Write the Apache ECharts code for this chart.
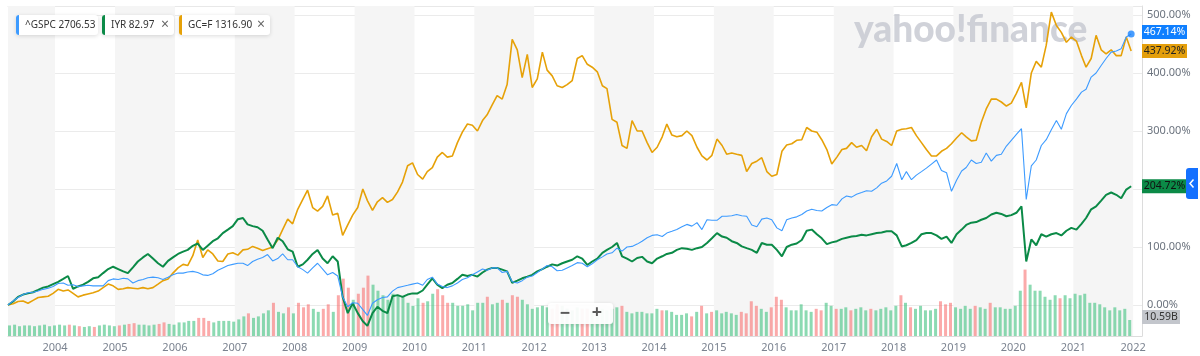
<!DOCTYPE html>
<html><head><meta charset="utf-8">
<script src="https://cdn.jsdelivr.net/npm/echarts@6/dist/echarts.min.js"></script>
<style>html,body{margin:0;padding:0;background:#fff;}#c{width:1200px;height:356px;}</style>
</head><body><div id="c"></div>
<script>
// ---- data: monthly readings (% change since start), Mar 2003 .. Dec 2021 ----
const startYear = 2003, startMonth = 3;
const spx = [
  0, 7, 13, 18, 21, 22, 24, 27, 29, 32,
  37, 38, 34, 35, 32, 33, 34, 33, 33, 33, 42, 45,
  44, 46, 45, 38, 42, 44, 47, 48, 47, 44, 48, 52,
  55, 55, 57, 58, 56, 52, 51, 54, 60, 64, 68, 70,
  72, 72, 68, 75, 79, 82, 87, 76, 80, 88, 78, 78,
  66, 61, 55, 64, 72, 62, 52, 56, 50, 14, -3, 4,
  3, -8, -18, 3, 9, 13, 14, 24, 30, 32, 34, 36,
  38, 34, 44, 48, 36, 32, 30, 33, 38, 44, 47, 52,
  57, 62, 60, 64, 64, 56, 58, 40, 38, 42, 48, 50,
  56, 62, 68, 66, 59, 60, 64, 68, 73, 72, 66, 71,
  78, 83, 88, 90, 98, 93, 100, 101, 105, 110, 116, 120,
  121, 118, 124, 127, 130, 135, 139, 136, 142, 130, 147, 146,
  146, 153, 153, 154, 156, 154, 153, 138, 135, 148, 150, 147,
  133, 128, 147, 150, 152, 156, 162, 165, 163, 162, 168, 173,
  172, 183, 188, 186, 191, 194, 197, 196, 202, 210, 214, 222,
  244, 216, 230, 216, 224, 230, 236, 243, 250, 232, 228, 196,
  215, 231, 237, 250, 244, 246, 262, 248, 258, 260, 274, 284,
  294, 304, 182, 240, 250, 275, 285, 302, 318, 303, 330, 344,
  355, 367, 372, 393, 400, 413, 425, 436, 438, 442, 462, 467.14
];
const iyr = [
  0, 6, 14, 18, 20, 22, 26, 30, 32, 36,
  40, 45, 50, 28, 32, 35, 40, 46, 48, 55, 62, 66,
  62, 58, 55, 65, 75, 82, 88, 80, 72, 66, 76, 82,
  88, 92, 95, 102, 106, 95, 102, 110, 115, 124, 130, 136,
  148, 150, 139, 136, 134, 128, 113, 98, 116, 110, 96, 92,
  66, 70, 78, 88, 95, 80, 72, 84, 75, 14, -14, 3,
  -14, -28, -36, -14, -3, -10, -14, 15, 17, 14, 18, 20,
  20, 25, 35, 46, 35, 29, 35, 38, 45, 52, 50, 52,
  49, 56, 61, 64, 64, 61, 58, 38, 42, 46, 49, 52,
  58, 62, 66, 70, 68, 72, 75, 78, 84, 80, 69, 75,
  80, 90, 95, 100, 107, 84, 80, 75, 81, 83, 75, 72,
  80, 84, 88, 90, 95, 98, 97, 95, 98, 100, 107, 115,
  124, 118, 116, 110, 107, 101, 98, 95, 90, 107, 104, 104,
  95, 84, 100, 104, 106, 112, 128, 130, 122, 115, 105, 108,
  110, 114, 116, 118, 119, 121, 120, 122, 124, 125, 127, 127,
  120, 101, 103, 107, 112, 122, 124, 124, 120, 114, 118, 107,
  122, 130, 138, 142, 143, 147, 150, 156, 159, 157, 153, 155,
  159, 170, 75, 113, 103, 122, 118, 122, 124, 120, 128, 133,
  130, 140, 150, 165, 170, 180, 190, 194, 190, 184, 199, 204.72
];
const gold = [
  0, 2, 6, 7, 3, 8, 13, 14, 15, 20,
  27, 24, 26, 20, 14, 17, 19, 21, 24, 30, 36, 33,
  27, 28, 30, 29, 28, 30, 28, 30, 36, 42, 45, 55,
  64, 70, 68, 85, 112, 82, 95, 88, 76, 75, 88, 90,
  86, 95, 96, 101, 98, 94, 97, 100, 112, 130, 148, 140,
  165, 182, 198, 168, 162, 170, 188, 155, 158, 120, 138, 155,
  168, 200, 180, 163, 178, 185, 177, 182, 195, 212, 240, 245,
  225, 217, 230, 237, 255, 263, 255, 257, 280, 298, 312, 310,
  300, 318, 328, 345, 361, 355, 380, 458, 440, 392, 432, 375,
  390, 436, 405, 395, 378, 375, 380, 387, 425, 430, 415, 410,
  402, 378, 373, 320, 315, 275, 270, 318, 300, 300, 280, 263,
  272, 290, 312, 293, 290, 292, 300, 292, 272, 257, 250, 258,
  286, 275, 260, 262, 260, 258, 230, 244, 248, 254, 230, 222,
  225, 265, 276, 278, 284, 285, 306, 300, 298, 285, 268, 243,
  255, 268, 270, 280, 272, 275, 266, 290, 303, 286, 282, 275,
  300, 303, 304, 306, 292, 280, 268, 257, 257, 265, 270, 278,
  288, 297, 290, 283, 284, 315, 338, 355, 355, 350, 343, 348,
  365, 384, 340, 400, 420, 410, 448, 505, 482, 470, 453, 462,
  455, 430, 410, 425, 465, 440, 433, 440, 430, 430, 462, 437.92
];
// volume in billions
const volume = [
  7, 7.5, 6.5, 7, 7, 6.5, 7, 7.5, 6.5, 7,
  7.5, 7, 7.5, 7, 6.5, 6, 6.5, 6, 7, 7.5, 7, 6.5,
  7, 7.5, 8, 8.5, 7.5, 7.5, 7, 7.5, 8, 9, 8, 7.5,
  9, 9, 10, 10, 12, 12, 10, 9, 10, 10, 10, 9.5,
  11, 13, 15, 12, 13, 15, 17, 22, 16, 15, 19, 15,
  22, 19, 21, 18, 16, 18, 21, 16, 27, 38, 32, 24,
  28, 32, 40, 34, 30, 27, 24, 28, 27, 26, 22, 20,
  25, 22, 23, 28, 31, 27, 22, 22, 20, 20, 21, 17,
  22, 22, 26, 21, 22, 24, 22, 27, 26, 24, 21, 18,
  19, 20, 19, 18, 21, 20, 18, 17, 19, 18, 18, 16,
  17, 18, 17, 18, 19, 20, 16, 15, 16, 16, 15, 15,
  18, 17, 17, 16, 14, 14, 15, 13, 16, 20, 15, 16,
  17, 15, 16, 15, 14, 16, 15, 23, 20, 18, 16, 19,
  26, 24, 19, 17, 17, 21, 17, 16, 18, 17, 22, 20,
  18, 18, 19, 17, 18, 19, 17, 18, 17, 18, 19, 17,
  20, 27, 22, 19, 18, 20, 17, 17, 18, 23, 21, 22,
  19, 18, 20, 18, 20, 19, 18, 22, 19, 19, 18, 18,
  20, 30, 44, 34, 30, 30, 26, 24, 27, 25, 27, 25,
  28, 27, 28, 22, 22, 21, 19, 17, 19, 17, 18, 10.59
];
const shadedYears = [2003,2005,2007,2009,2011,2013,2015,2017,2019,2021];
const legendItems = [
  {name:'^GSPC', value:'2706.53', closable:false},
  {name:'IYR', value:'82.97', closable:true},
  {name:'GC=F', value:'1316.90', closable:true}
];

// ---- build ----
const X_MIN = '2003-03-20', X_MAX = '2022-02-24';
const YEAR_MS = 365.25 * 24 * 3600 * 1000;
const C_SPX = '#3d9bff', C_IYR = '#0b8a47', C_GOLD = '#e6a108';
const dates = [];
for (let i = 0; i < spx.length; i++) {
  const m = startMonth - 1 + i;
  const y = startYear + Math.floor(m / 12);
  const mm = (m % 12) + 1;
  dates.push(y + '-' + String(mm).padStart(2, '0') + '-20');
}
const pairs = arr => arr.map((v, i) => [dates[i], v]);
const volData = volume.map((v, i) => ({
  value: [dates[i], v],
  itemStyle: {color: (i === 0 || spx[i] >= spx[i - 1]) ? 'rgba(70,195,130,0.62)' : 'rgba(248,100,100,0.55)'}
}));

const chart = echarts.init(document.getElementById('c'), null, {renderer: 'canvas'});
const FONT = 'Noto Sans';
const option = {
  animation: false,
  textStyle: {fontFamily: FONT},
  grid: [
    {left: 8, right: 58, top: 15, bottom: 51},
    {left: 8, right: 58, bottom: 20, height: 80},
    {left: 8, right: 58, top: 6, bottom: 20}
  ],
  xAxis: [
    {type: 'time', gridIndex: 0, min: X_MIN, max: X_MAX, show: false},
    {type: 'time', gridIndex: 1, min: X_MIN, max: X_MAX, show: false},
    {type: 'time', gridIndex: 2, min: X_MIN, max: X_MAX, minInterval: YEAR_MS * 0.99, maxInterval: YEAR_MS * 1.01,
      axisLine: {lineStyle: {color: '#dcdcdc'}}, axisTick: {show: false}, splitLine: {show: false},
      axisLabel: {formatter: '{yyyy}', color: '#7b8390', fontSize: 11, margin: 6, hideOverlap: false, showMinLabel: false, showMaxLabel: false}},
    {type: 'time', gridIndex: 2, position: 'top', min: X_MIN, max: X_MAX,
      axisLine: {lineStyle: {color: '#e8e8e8'}}, axisTick: {show: false}, axisLabel: {show: false}, splitLine: {show: false}}
  ],
  yAxis: [
    {type: 'value', gridIndex: 0, position: 'right', min: 0, max: 500, interval: 100,
      axisLine: {show: false}, axisTick: {show: false},
      axisLabel: {formatter: v => v.toFixed(2) + '%', color: '#6b737e', fontSize: 11, margin: 5},
      splitLine: {lineStyle: {color: '#ebebeb'}}},
    {type: 'value', gridIndex: 1, min: 0, max: 53, show: false},
    {type: 'value', gridIndex: 2, position: 'right', min: 0, max: 1,
      axisLine: {show: true, lineStyle: {color: '#dcdcdc'}}, axisTick: {show: false}, axisLabel: {show: false}, splitLine: {show: false}}
  ],
  series: [
    {type: 'line', xAxisIndex: 2, yAxisIndex: 2, data: [[X_MIN, 0], [X_MAX, 0]], symbol: 'none',
      lineStyle: {opacity: 0}, silent: true, z: 0,
      markArea: {silent: true, itemStyle: {color: '#f5f5f5'},
        data: shadedYears.map(y => [{xAxis: y === 2003 ? X_MIN : y + '-01-01'}, {xAxis: (y + 1) + '-01-01'}])}},
    {type: 'bar', xAxisIndex: 1, yAxisIndex: 1, data: volData, barWidth: 3, z: 2, silent: true},
    {name: 'GC=F', type: 'line', xAxisIndex: 0, yAxisIndex: 0, data: pairs(gold), symbol: 'none', clip: false,
      lineStyle: {color: C_GOLD, width: 1.6}, z: 3},
    {name: 'IYR', type: 'line', xAxisIndex: 0, yAxisIndex: 0, data: pairs(iyr), symbol: 'none', clip: false,
      lineStyle: {color: C_IYR, width: 2}, z: 4},
    {name: '^GSPC', type: 'line', xAxisIndex: 0, yAxisIndex: 0, data: pairs(spx), symbol: 'none', clip: false,
      lineStyle: {color: C_SPX, width: 1.1}, z: 5},
    {type: 'scatter', xAxisIndex: 0, yAxisIndex: 0, data: [[dates[dates.length - 1], spx[spx.length - 1]]],
      symbolSize: 7, itemStyle: {color: '#1a84ff'}, z: 6, silent: true}
  ]
};
chart.setOption(option);

// ---- decorations ----
const g = [];
g.push({type: 'text', z: 1, silent: true, style: {text: 'yahoo!finance', x: 854, y: 12, fontSize: 37, fontWeight: 900, fontFamily: 'Lato', fill: 'rgba(196,199,207,0.8)'}});
const pillX = [16, 102, 179], pillW = [82, 72, 91], pillC = [C_SPX, C_IYR, C_GOLD];
legendItems.forEach((it, i) => {
  const x = pillX[i];
  g.push({type: 'rect', z: 50, shape: {x: x, y: 15, width: pillW[i], height: 20, r: 3},
    style: {fill: '#fff', shadowBlur: 4, shadowColor: 'rgba(0,0,0,0.14)', shadowOffsetY: 1}});
  g.push({type: 'rect', z: 51, shape: {x: x, y: 15, width: 3, height: 20, r: [3, 0, 0, 3]}, style: {fill: pillC[i]}});
  g.push({type: 'text', z: 52, style: {text: it.name + ' ' + it.value, x: x + 9, y: 25.5, verticalAlign: 'middle',
    fontSize: 10, fontFamily: FONT, fill: '#333'}});
  if (it.closable) g.push({type: 'text', z: 52, style: {text: '×', x: x + pillW[i] - 9, y: 25, align: 'center', verticalAlign: 'middle',
    fontSize: 14, fontFamily: FONT, fill: '#666'}});
});
const yOf = v => chart.convertToPixel({yAxisIndex: 0}, v);
function tag(bg, fg, yPix, w, txt) {
  g.push({type: 'rect', z: 60, shape: {x: 1142, y: yPix - 7, width: w, height: 14}, style: {fill: bg}});
  g.push({type: 'text', z: 61, style: {text: txt, x: 1142 + w / 2, y: yPix, align: 'center', verticalAlign: 'middle',
    fontSize: 10.5, fontFamily: FONT, fill: fg}});
}
const sLast = spx[spx.length - 1], gLast = gold[gold.length - 1], iLast = iyr[iyr.length - 1], vLast = volume[volume.length - 1];
tag('#0f7fff', '#fff', yOf(sLast) - 2, 45, sLast.toFixed(2) + '%');
tag('#e49f0c', '#222', yOf(gLast), 45, gLast.toFixed(2) + '%');
tag('#0b8a47', '#111', yOf(iLast), 45, iLast.toFixed(2) + '%');
tag('#c3c6cc', '#333', chart.convertToPixel({yAxisIndex: 1}, vLast) - 3, 38, vLast.toFixed(2) + 'B');
g.push({type: 'rect', z: 62, shape: {x: 1186, y: 168, width: 12, height: 31, r: [3, 0, 0, 3]}, style: {fill: '#1470ff'}});
g.push({type: 'polyline', z: 63, shape: {points: [[1193.5, 179.5], [1190, 183.5], [1193.5, 187.5]]}, style: {stroke: '#fff', lineWidth: 1.5, fill: null}});
g.push({type: 'rect', z: 40, shape: {x: 548, y: 303, width: 65, height: 21, r: 3},
  style: {fill: 'rgba(255,255,255,0.95)', shadowBlur: 4, shadowColor: 'rgba(0,0,0,0.15)', shadowOffsetY: 1}});
g.push({type: 'text', z: 41, style: {text: '−', x: 565, y: 313.5, align: 'center', verticalAlign: 'middle', fontSize: 18, fontWeight: 'bold', fontFamily: FONT, fill: '#5a5a5a'}});
g.push({type: 'text', z: 41, style: {text: '+', x: 597, y: 313, align: 'center', verticalAlign: 'middle', fontSize: 18, fontWeight: 'bold', fontFamily: FONT, fill: '#5a5a5a'}});
chart.setOption({graphic: g});
</script>
</body></html>
